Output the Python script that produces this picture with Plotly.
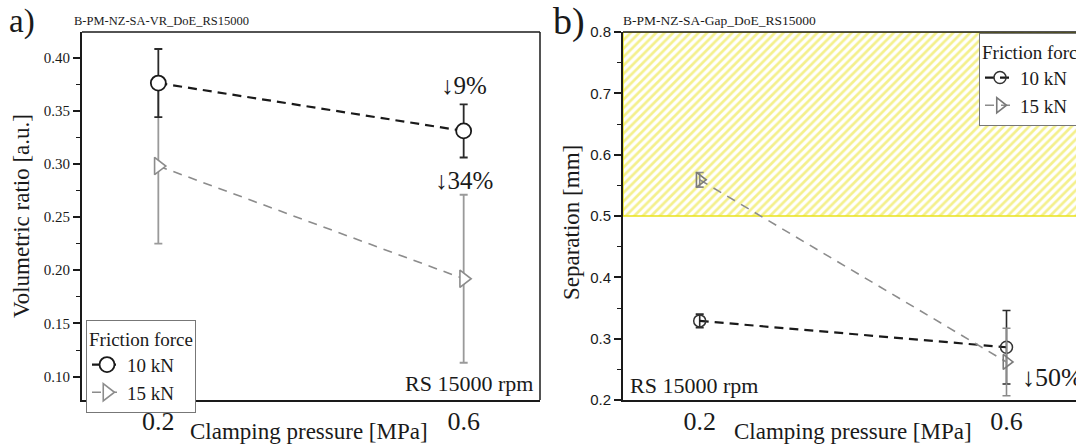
import plotly.graph_objects as go

# ---------------- data ----------------
# Clamping pressure levels [MPa]
pressure = [0.2, 0.6]
force_labels = ["10 kN", "15 kN"]

# a) Volumetric ratio [a.u.]: mean and standard deviation per friction force
vr_10kn = [0.376, 0.331]
vr_10kn_sd = [0.032, 0.025]
vr_15kn = [0.298, 0.192]
vr_15kn_sd = [0.073, 0.079]

# b) Separation [mm]: mean and standard deviation per friction force
gap_10kn = [0.329, 0.286]
gap_10kn_sd = [0.011, 0.060]
gap_15kn = [0.559, 0.262]
gap_15kn_sd = [0.012, 0.055]

# tick labels
x_tick_vals = [0.2, 0.6]
x_tick_text = ["0.2", "0.6"]
vr_tick_vals = [0.10, 0.15, 0.20, 0.25, 0.30, 0.35, 0.40]
gap_tick_vals = [0.2, 0.3, 0.4, 0.5, 0.6, 0.7, 0.8]

# relative drop labels at 0.6 MPa
vr_drop_text = ["↓9%", "↓34%"]
gap_drop_text = ["↓50%"]

# hatched separation band [mm]
gap_band = [0.5, 0.8]

# ---------------- layout helpers ----------------
W, H = 1076, 445
SERIF = "Liberation Serif, Times New Roman, serif"
SANS = "Liberation Sans, Arial, sans-serif"
BLACK = "#1a1a1a"
GREY = "#8c8c8c"
YELLOW = "#e9e21c"


def px_x(v):
    return v / W


def px_y(v):
    return 1 - v / H


# plot areas in pixels
A_L, A_R, TOP, BOT = 82, 540, 32, 400
B_L, B_R = 623, 1076

fig = go.Figure()

# ---- panel a ----
fig.add_trace(go.Scatter(
    x=pressure, y=vr_15kn, name=force_labels[1], legendrank=2,
    mode="lines+markers", xaxis="x", yaxis="y", legend="legend",
    line=dict(color=GREY, width=1.6, dash="9px,7px"),
    marker=dict(symbol="triangle-right", size=15, color="white",
                line=dict(color=GREY, width=1.6)),
    error_y=dict(type="data", array=vr_15kn_sd, visible=True,
                 color="#9a9a9a", thickness=1.8, width=4),
))
fig.add_trace(go.Scatter(
    x=pressure, y=vr_10kn, name=force_labels[0], legendrank=1,
    mode="lines+markers", xaxis="x", yaxis="y", legend="legend",
    line=dict(color=BLACK, width=2.2, dash="9px,6px"),
    marker=dict(symbol="circle", size=15, color="white",
                line=dict(color=BLACK, width=1.8)),
    error_y=dict(type="data", array=vr_10kn_sd, visible=True,
                 color="#2a2a2a", thickness=1.8, width=4),
))

# ---- panel b ----
fig.add_trace(go.Scatter(
    x=[0.1, 0.75, 0.75, 0.1, 0.1],
    y=[gap_band[0], gap_band[0], gap_band[1], gap_band[1], gap_band[0]],
    mode="lines", fill="toself", xaxis="x2", yaxis="y2",
    showlegend=False, hoverinfo="skip",
    line=dict(color=YELLOW, width=1.5),
    fillcolor="rgba(0,0,0,0)",
    fillpattern=dict(shape="/", fgcolor=YELLOW, bgcolor="white",
                     size=6, solidity=0.45),
))
fig.add_trace(go.Scatter(
    x=pressure, y=gap_10kn, name=force_labels[0], legendrank=1,
    mode="lines+markers", xaxis="x2", yaxis="y2", legend="legend2",
    line=dict(color=BLACK, width=2.2, dash="9px,6px"),
    marker=dict(symbol="circle-open", size=12,
                line=dict(color="#333333", width=1.5), color="#333333"),
    error_y=dict(type="data", array=gap_10kn_sd, visible=True,
                 color="#2a2a2a", thickness=1.6, width=4),
))
fig.add_trace(go.Scatter(
    x=pressure, y=gap_15kn, name=force_labels[1], legendrank=2,
    mode="lines+markers", xaxis="x2", yaxis="y2", legend="legend2",
    line=dict(color=GREY, width=1.6, dash="9px,7px"),
    marker=dict(symbol="triangle-right-open", size=13, color="#7a7a7a",
                line=dict(color="#7a7a7a", width=1.6)),
    error_y=dict(type="data", array=gap_15kn_sd, visible=True,
                 color="#8a8a8a", thickness=1.6, width=4),
))

axis_common = dict(showgrid=False, zeroline=False, showline=True,
                   linecolor=BLACK, linewidth=2)

xaxis_common = dict(
    **axis_common, tickvals=x_tick_vals, ticktext=x_tick_text, ticks="",
    tickfont=dict(family=SERIF, size=26, color=BLACK), ticklabelstandoff=-3,
)

yaxis_common = dict(
    **axis_common, ticks="outside", ticklen=7, tickwidth=1.6,
    tickcolor=BLACK,
)

fig.update_layout(
    width=W, height=H, autosize=False,
    margin=dict(l=0, r=0, t=0, b=0, autoexpand=False),
    paper_bgcolor="white", plot_bgcolor="white",
    xaxis=dict(**xaxis_common, domain=[px_x(A_L), px_x(A_R)],
               range=[0.1, 0.7], anchor="y"),
    yaxis=dict(**yaxis_common, domain=[px_y(BOT), px_y(TOP)],
               range=[0.078, 0.424], anchor="x",
               tickvals=vr_tick_vals, tickformat=".2f",
               tickfont=dict(family=SERIF, size=15, color=BLACK),
               minor=dict(dtick=0.025, tick0=0.0, ticks="outside",
                          ticklen=4, tickwidth=1.4, tickcolor=BLACK)),
    xaxis2=dict(**xaxis_common, domain=[px_x(B_L), px_x(B_R)],
                range=[0.1, 0.1 + (B_R - B_L) / 767.0], anchor="y2"),
    yaxis2=dict(**yaxis_common, domain=[px_y(BOT), px_y(TOP)],
                range=[0.2, 0.8], anchor="x2",
                tickvals=gap_tick_vals, tickformat=".1f",
                tickfont=dict(family=SANS, size=15, color=BLACK),
                minor=dict(dtick=0.05, tick0=0.0, ticks="outside",
                           ticklen=4, tickwidth=1.4, tickcolor=BLACK)),
    legend=dict(
        x=px_x(86), y=px_y(320), xanchor="left", yanchor="top",
        bgcolor="white", bordercolor="#777777", borderwidth=1,
        font=dict(family=SERIF, size=19, color=BLACK),
        title=dict(text="Friction force",
                   font=dict(family=SERIF, size=19, color=BLACK)),
        tracegroupgap=0, itemwidth=30,
    ),
    legend2=dict(
        x=px_x(979), y=px_y(33), xanchor="left", yanchor="top",
        bgcolor="white", bordercolor="#777777", borderwidth=1,
        font=dict(family=SERIF, size=19, color=BLACK),
        title=dict(text="Friction force",
                   font=dict(family=SERIF, size=19, color=BLACK)),
        tracegroupgap=0, itemwidth=30,
    ),
)

# frame lines on top / right of the plot areas
fig.add_shape(type="line", xref="paper", yref="paper", layer="above",
              x0=px_x(A_L), x1=px_x(A_R), y0=px_y(TOP), y1=px_y(TOP),
              line=dict(color=BLACK, width=1.5))
fig.add_shape(type="line", xref="paper", yref="paper", layer="above",
              x0=px_x(A_R), x1=px_x(A_R), y0=px_y(BOT), y1=px_y(TOP),
              line=dict(color=BLACK, width=1.5))
fig.add_shape(type="line", xref="paper", yref="paper", layer="above",
              x0=px_x(B_L), x1=px_x(B_R), y0=px_y(TOP), y1=px_y(TOP),
              line=dict(color=BLACK, width=1.5))


def note(text, x, y, size, family=SERIF, xanchor="center", xref="paper",
         yref="paper", angle=0):
    fig.add_annotation(text=text, x=x, y=y, xref=xref, yref=yref,
                       xanchor=xanchor, yanchor="middle", showarrow=False,
                       textangle=angle,
                       font=dict(family=family, size=size, color=BLACK))


# panel labels and run titles
note("a)", px_x(22), px_y(22), 33)
note("b)", px_x(569), px_y(22), 38)
note("B-PM-NZ-SA-VR_DoE_RS15000", px_x(72), px_y(21), 12.5, xanchor="left")
note("B-PM-NZ-SA-Gap_DoE_RS15000", px_x(621), px_y(21), 13.5, xanchor="left")

# axis titles
note("Clamping pressure [MPa]", px_x(309), px_y(431), 23)
note("Clamping pressure [MPa]", px_x(853), px_y(431), 23)
note("Volumetric ratio [a.u.]", px_x(22), px_y(216), 23, angle=-90)
note("Separation [mm]", px_x(571), px_y(223), 23, angle=-90)

# rotational speed labels
note("RS 15000 rpm", px_x(535), px_y(383), 22, xanchor="right")
note("RS 15000 rpm", px_x(628), px_y(385), 22, xanchor="left")

# relative drops
note(vr_drop_text[0], 0.6, 0.374, 25, xref="x", yref="y")
note(vr_drop_text[1], 0.6, 0.284, 25, xref="x", yref="y")
note(gap_drop_text[0], 0.6176, 0.236, 26, xanchor="left", xref="x2", yref="y2")

fig.write_html("out.html")
